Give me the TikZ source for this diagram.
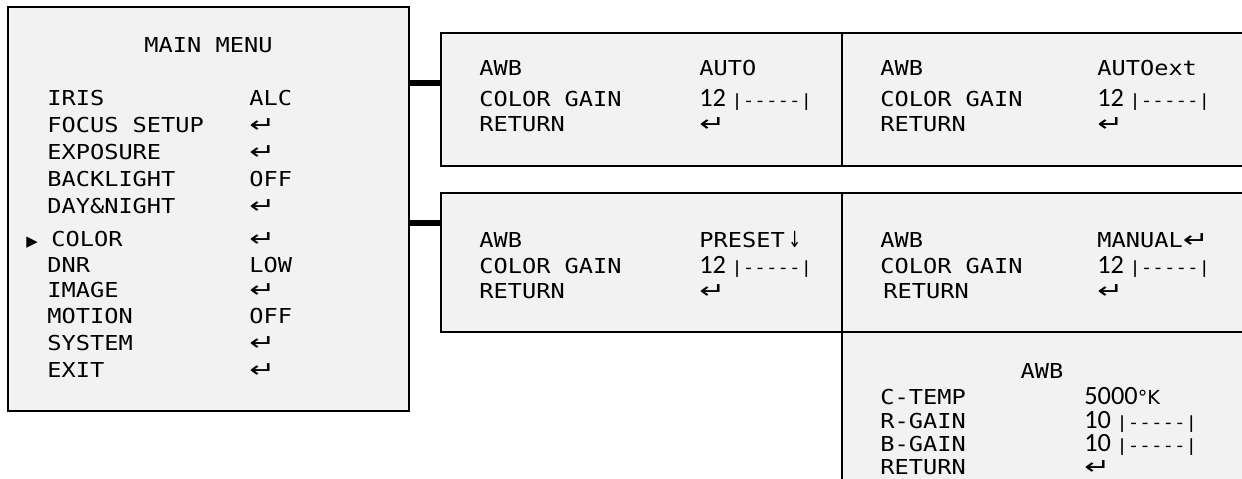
\documentclass[tikz,border=0pt]{standalone}
\usepackage{fontspec}
\newfontfamily\osdfont[FakeStretch=1.15]{DejaVu Sans Mono}
\newfontfamily\symfont{DejaVu Sans}
\newfontfamily\numfont{Carlito}
\usetikzlibrary{calc}
\definecolor{PanelGrey}{RGB}{242,242,242}
\newcommand{\retkey}{\scalebox{1.6}[1.15]{\symfont\fontsize{11}{11}\selectfont ↵}}
\newcommand{\gauge}[1]{{\numfont\fontsize{15}{15}\selectfont #1}\hspace{3pt}{\osdfont\fontsize{9.5}{10}\selectfont |-{}-{}-{}-{}-|}}

\begin{document}
\begin{tikzpicture}[x=0.02cm,y=-0.02cm,
    panel/.style={draw=black,fill=PanelGrey,line width=1.1pt,inner sep=0pt},
    txt/.style={font=\osdfont\fontsize{11.7}{14}\selectfont,anchor=base west,inner sep=0pt},
    link/.style={line width=3.4pt}]
  \clip (0,0) rectangle (1242,479);
  \fill[white] (0,0) rectangle (1242,479);

  % menu panels
  \node[panel,minimum width=8.02cm,minimum height=8.08cm] (menu)    at (208.5,209)   {};
  \node[panel,minimum width=8.02cm,minimum height=2.66cm] (auto)    at (641.5,99.5)  {};
  \node[panel,minimum width=8.36cm,minimum height=2.66cm] (autoext) at (1051,99.5)   {};
  \node[panel,minimum width=8.02cm,minimum height=2.78cm] (preset)  at (641.5,262.5) {};
  \node[panel,minimum width=8.36cm,minimum height=2.78cm] (manual)  at (1051,262.5)  {};
  \node[panel,minimum width=8.36cm,minimum height=3.36cm] (awbset)  at (1051,416)    {};

  \coordinate (j1) at ($(auto.north west)!.38!(auto.south west)$);
  \coordinate (j2) at ($(preset.north west)!.22!(preset.south west)$);
  \draw[link] (j1) -- (j1 -| menu.east);
  \draw[link] (j2) -- (j2 -| menu.east);

  % main menu
  \node[txt,anchor=base] (title) at (208.5,52.7) {MAIN MENU};
  \foreach \lab/\val/\y [count=\i] in {IRIS/ALC/106, FOCUS SETUP/\retkey/133,
      EXPOSURE/\retkey/160, BACKLIGHT/OFF/187, DAY\&NIGHT/\retkey/214,
      DNR/LOW/273, IMAGE/\retkey/298, MOTION/OFF/324, SYSTEM/\retkey/351,
      EXIT/\retkey/378} {
    \node[txt] (item\i) at (47,\y) {\lab};
    \node[txt] (val\i) at (249,\y) {\val};
  }
  \node[txt] (pick) at (26,247) {\symfont\fontsize{8.5}{9}\selectfont ▶};
  \node[txt] (color) at (51,247) {COLOR};
  \node[txt] (colorval) at (249,247) {\retkey};

  % AWB AUTO
  \node[txt] (a1) at (479,76)    {AWB};
  \node[txt] (a2) at (479,106.7) {COLOR GAIN};
  \node[txt] (a3) at (479,132)   {RETURN};
  \node[txt] (av1) at (699,76)    {AUTO};
  \node[txt] (av2) at (699,106.7) {\gauge{12}};
  \node[txt] (av3) at (699,132)   {\retkey};

  % AWB AUTOext
  \node[txt] (b1) at (880,76)    {AWB};
  \node[txt] (b2) at (880,106.7) {COLOR GAIN};
  \node[txt] (b3) at (880,132)   {RETURN};
  \node[txt] (bv1) at (1097,76)    {AUTOext};
  \node[txt] (bv2) at (1097,106.7) {\gauge{12}};
  \node[txt] (bv3) at (1097,132)   {\retkey};

  % AWB PRESET
  \node[txt] (c1) at (479,248) {AWB};
  \node[txt] (c2) at (479,274) {COLOR GAIN};
  \node[txt] (c3) at (479,299) {RETURN};
  \node[txt] (cv1) at (699,248) {PRESET\,\scalebox{1}[1.4]{\symfont\fontsize{9}{9}\selectfont ↓}};
  \node[txt] (cv2) at (699,274) {\gauge{12}};
  \node[txt] (cv3) at (699,299) {\retkey};

  % AWB MANUAL
  \node[txt] (d1) at (880,248) {AWB};
  \node[txt] (d2) at (880,274) {COLOR GAIN};
  \node[txt] (d3) at (883,299) {RETURN};
  \node[txt] (dv1) at (1097,248) {MANUAL\retkey};
  \node[txt] (dv2) at (1097,274) {\gauge{12}};
  \node[txt] (dv3) at (1097,299) {\retkey};

  % manual settings
  \node[txt,anchor=base] (e0) at (1042,379) {AWB};
  \node[txt] (e1) at (880,405) {C-TEMP};
  \node[txt] (e2) at (880,429) {R-GAIN};
  \node[txt] (e3) at (880,452) {B-GAIN};
  \node[txt] (e4) at (880,475) {RETURN};
  \node[txt] (ev1) at (1084,405) {{\numfont\fontsize{15}{15}\selectfont 5000}{\symfont\fontsize{11}{11}\selectfont °K}};
  \node[txt] (ev2) at (1084,429) {\gauge{10}};
  \node[txt] (ev3) at (1084,452) {\gauge{10}};
  \node[txt] (ev4) at (1084,475) {\retkey};
\end{tikzpicture}
\end{document}
